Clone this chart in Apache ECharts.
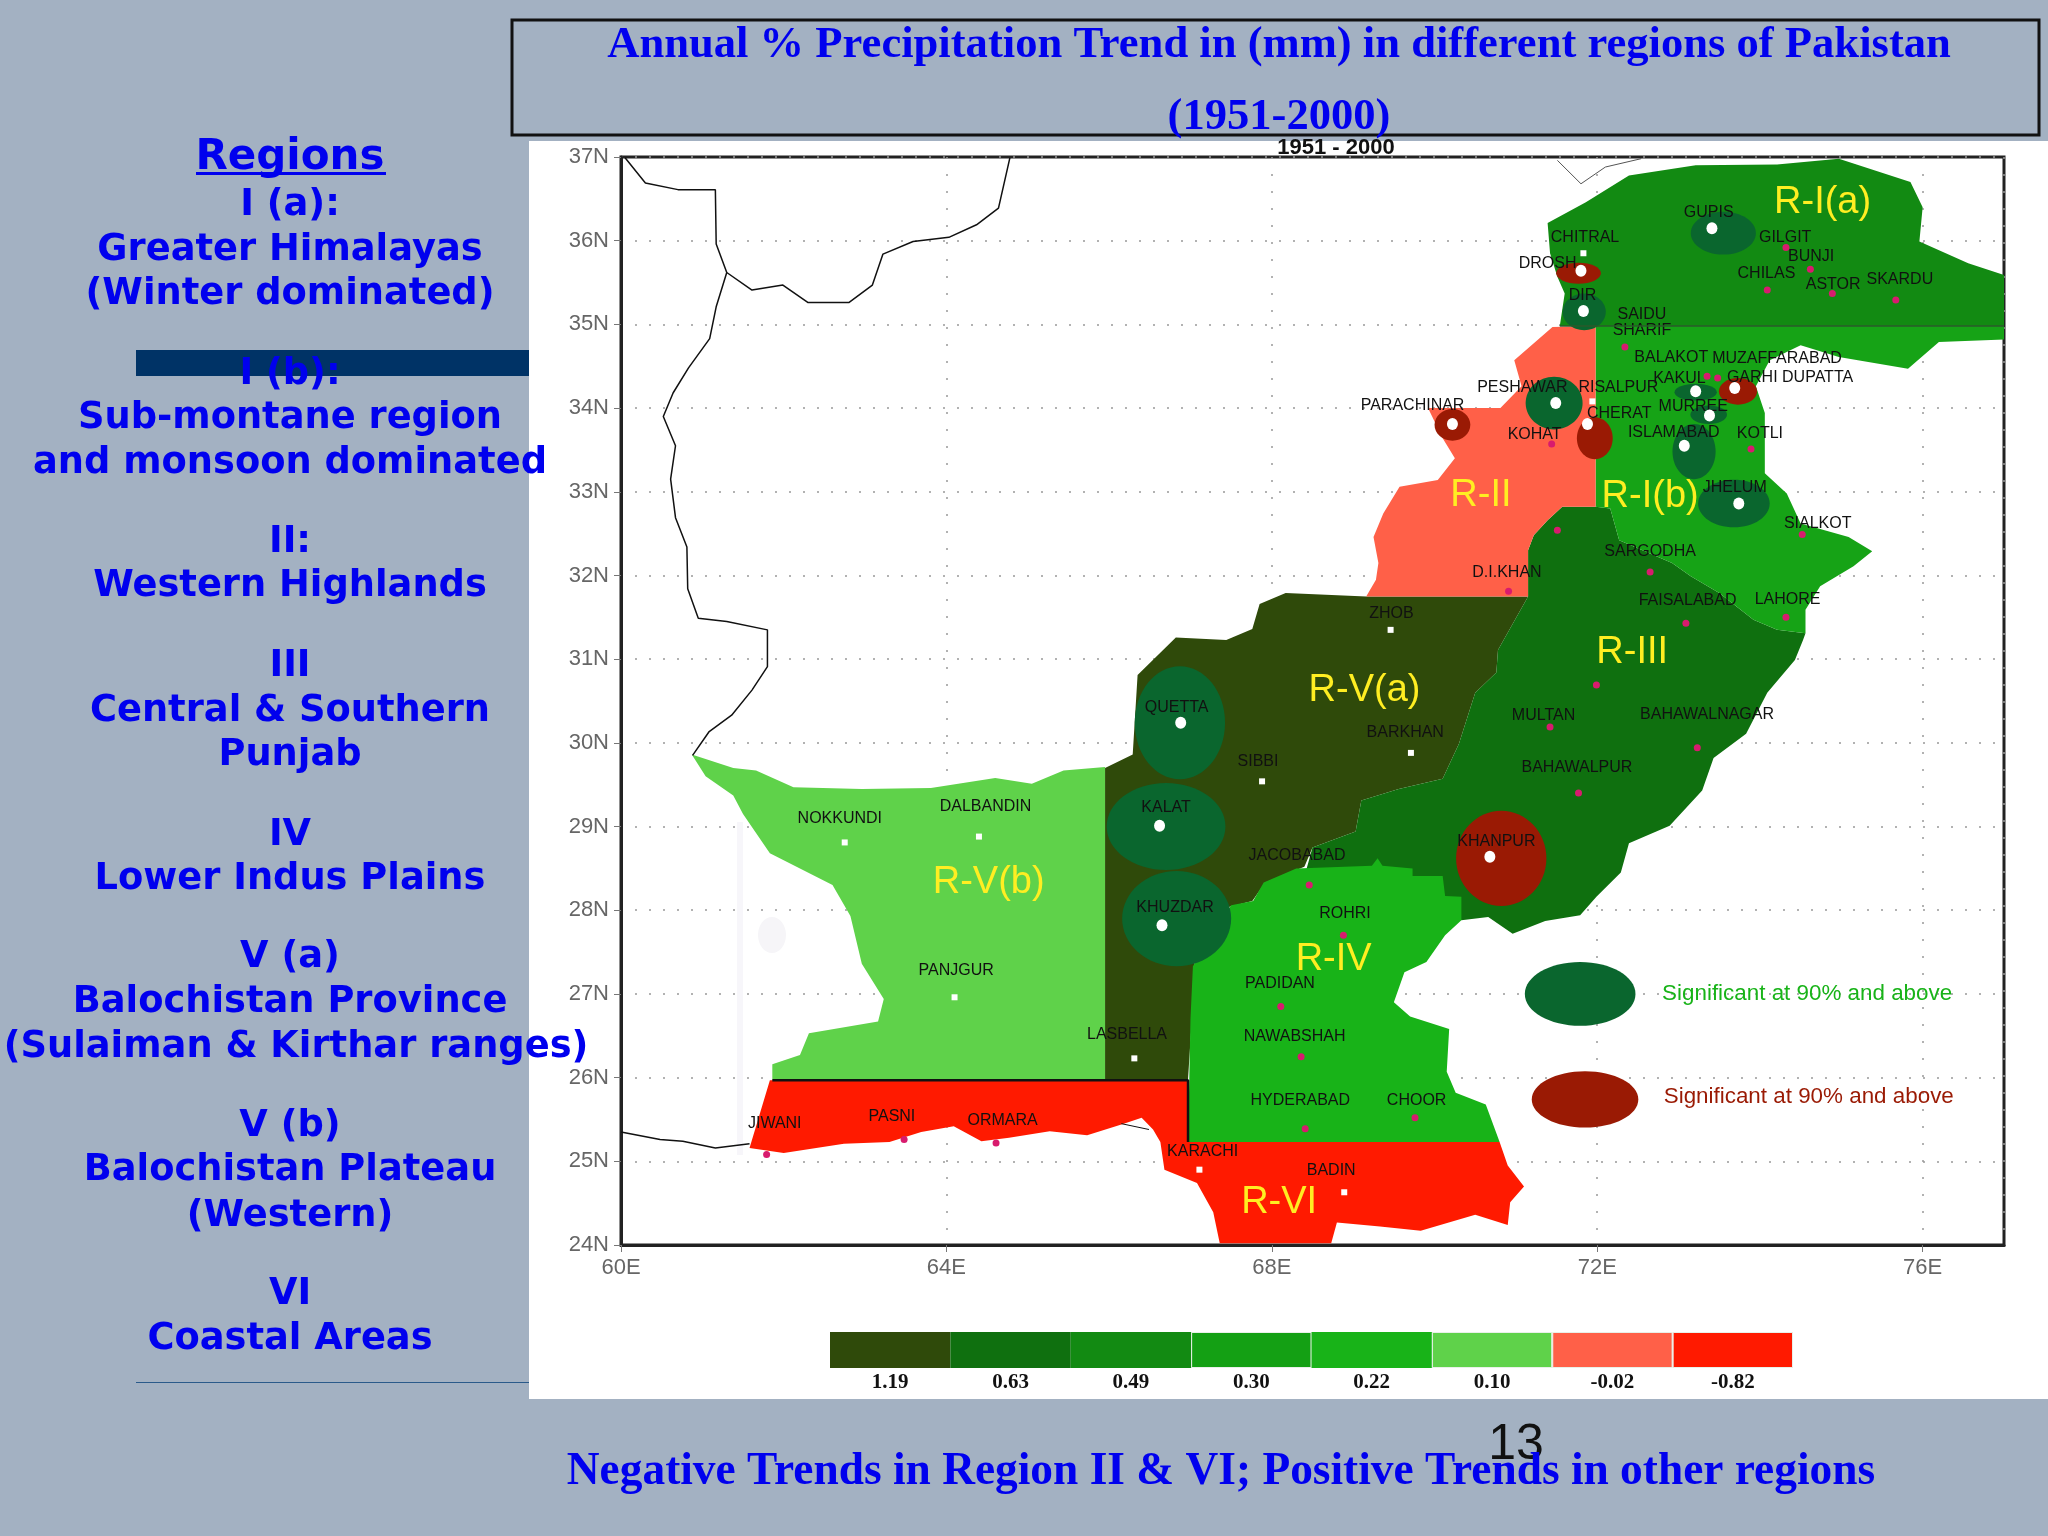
<!DOCTYPE html>
<html>
<head>
<meta charset="utf-8">
<title>Annual Precipitation Trend</title>
<script src="https://cdn.jsdelivr.net/npm/echarts@6/dist/echarts.min.js"></script>
<style>
html,body{margin:0;padding:0;background:#a3b1c2;}
#main{width:2048px;height:1536px;}
</style>
</head>
<body>
<div id="main"></div>
<script>
// region outlines, [lon, lat]
var rVa = [[66.35,30.81],[66.82,31.26],[67.44,31.23],[67.76,31.36],[67.85,31.66],[68.17,31.79],[69.16,31.75],[71.15,31.75],[70.78,31.11],[70.76,30.84],[70.5,30.6],[70.3,29.99],[70.1,29.57],[69.56,29.45],[69.1,29.31],[69.03,28.94],[68.5,28.75],[68.4,28.52],[67.92,28.33],[67.76,28.11],[67.47,28.04],[67.05,27.36],[67.02,26.75],[66.97,25.98],[65.95,25.98],[65.95,29.7],[66.29,29.86]];
var rIII = [[71.15,31.75],[71.15,32.3],[71.22,32.48],[71.39,32.66],[71.57,32.82],[71.98,32.82],[72.16,32.8],[72.27,32.42],[72.92,32.15],[73.15,31.99],[73.5,31.79],[73.92,31.47],[74.21,31.35],[74.56,31.31],[74.53,31.23],[74.43,30.99],[74.09,30.6],[73.83,30.11],[73.43,29.82],[73.29,29.43],[72.89,29.01],[72.39,28.8],[72.29,28.45],[71.99,28.16],[71.79,27.94],[71.36,27.87],[70.96,27.72],[70.66,27.92],[70.33,27.88],[70.13,28.17],[69.73,28.3],[68.4,28.4],[68.5,28.75],[69.03,28.94],[69.1,29.31],[69.56,29.45],[70.1,29.57],[70.3,29.99],[70.5,30.6],[70.76,30.84],[70.78,31.11]];
var rIa = [[71.39,36.21],[71.86,36.46],[72.39,36.78],[73.21,36.9],[74.21,36.91],[74.97,36.98],[75.85,36.7],[76,36.4],[75.96,35.99],[76.56,35.73],[77,35.59],[77,34.98],[71.54,34.98],[71.6,35.37],[71.51,35.57],[71.42,35.85]];
var rIb = [[71.98,34.98],[77,34.98],[77,34.82],[76.2,34.79],[75.82,34.47],[74.97,34.61],[74.5,34.75],[74.12,34.57],[73.95,34.26],[74.06,33.94],[74.06,33.22],[74.33,32.98],[74.5,32.62],[75.09,32.46],[75.38,32.29],[75.15,32.11],[74.74,31.87],[74.56,31.59],[74.56,31.31],[74.21,31.35],[73.92,31.47],[73.5,31.79],[73.15,31.99],[72.92,32.15],[72.27,32.42],[72.16,32.8],[71.98,32.82]];
var rII = [[71.98,34.98],[71.98,32.82],[71.57,32.82],[71.39,32.66],[71.22,32.48],[71.15,32.3],[71.15,31.75],[69.16,31.75],[69.28,31.95],[69.31,32.15],[69.25,32.46],[69.37,32.74],[69.57,33.06],[70.04,33.14],[70.25,33.4],[70.1,33.64],[69.92,34],[70.81,34],[71.07,34.26],[70.98,34.57],[71.45,34.97]];
var rIV = [[68.3,28.5],[69.23,28.53],[69.3,28.62],[69.36,28.53],[69.73,28.5],[69.73,28.41],[70.1,28.41],[70.13,28.17],[70.33,28.16],[70.33,27.88],[70.13,27.7],[69.9,27.38],[69.63,27.26],[69.5,26.9],[69.7,26.73],[70.18,26.58],[70.15,26.07],[70.26,25.82],[70.63,25.68],[70.8,25.23],[66.97,25.23],[67,26.7],[67.03,27.33],[67.5,28.06],[67.77,28.11],[67.9,28.33]];
var rVb = [[60.87,29.86],[61.38,29.7],[61.66,29.67],[62.12,29.47],[62.96,29.45],[63.81,29.46],[64.6,29.58],[65.05,29.51],[65.44,29.67],[65.95,29.71],[65.95,25.98],[61.86,25.98],[61.86,26.16],[62.2,26.27],[62.31,26.53],[63.16,26.67],[63.23,26.94],[62.96,27.36],[62.82,27.93],[62.6,28.3],[61.83,28.68],[61.5,29.15],[61.38,29.37],[61.04,29.6]];
var rVI = [[61.83,25.97],[66.97,25.97],[66.97,25.23],[70.8,25.23],[70.9,24.95],[71.1,24.7],[70.93,24.51],[70.9,24.24],[70.5,24.36],[69.83,24.17],[69.33,24.22],[68.8,24.27],[68.73,24.02],[67.36,24.02],[67.28,24.39],[67.08,24.74],[66.68,24.9],[66.63,25.23],[66.54,25.38],[66.4,25.52],[66.18,25.45],[65.73,25.31],[65.27,25.36],[64.77,25.28],[64.43,25.24],[64.09,25.42],[63.69,25.35],[63.3,25.23],[62.74,25.21],[62,25.1],[61.58,25.16]];

var regionPolys = [rVa, rIII, rIa, rIb, rII, rIV, rVb, rVI];
var regionColors = ['#2f4a0a','#0f700f','#128a12','#16a316','#ff6048','#18b318','#5fd24a','#ff1a00'];

// international borders
var borderNorth = [[60.05,36.99],[60.3,36.69],[60.7,36.61],[61.16,36.61],[61.17,35.96],[61.3,35.62],[61.61,35.41],[61.99,35.47],[62.3,35.26],[62.8,35.26],[63.09,35.47],[63.22,35.84],[63.59,35.99],[64.03,36.04],[64.37,36.19],[64.64,36.39],[64.78,36.99]];
var borderWest = [[61.3,35.62],[61.17,35.21],[61.09,34.83],[60.83,34.48],[60.64,34.18],[60.52,33.9],[60.67,33.55],[60.61,33.15],[60.67,32.69],[60.81,32.34],[60.82,31.84],[60.95,31.49],[61.3,31.45],[61.8,31.35],[61.8,30.91],[61.61,30.63],[61.36,30.33],[61.08,30.13],[60.88,29.85]];
var borderCoast = [[60,25.35],[60.48,25.26],[60.76,25.24],[61.16,25.16],[61.58,25.21]];
var borderPeak = [[71.51,36.96],[71.8,36.68],[72.1,36.88],[72.54,36.98]];
var borderKarachi = [[66.15,25.45],[66.49,25.38]];
var edgeSouth = [[61.86,25.97],[66.97,25.97],[66.97,25.23]];
var edgeNorth = [[71.54,34.98],[77,34.98]];

// significance ovals: lon, lat, span in lon, span in lat
var greenOvals = [[73.55,36.09,0.8,0.51],[71.84,35.15,0.53,0.44],[71.47,34.06,0.7,0.63],[73.21,34.19,0.52,0.2],[73.37,33.92,0.45,0.22],[73.19,33.48,0.53,0.66],[73.68,32.86,0.88,0.57],[66.87,30.24,1.11,1.35],[66.7,29,1.46,1.04],[66.83,27.9,1.34,1.14],[71.79,27,1.36,0.76]];
var redOvals = [[71.77,35.61,0.55,0.25],[70.22,33.8,0.44,0.38],[71.97,33.64,0.44,0.5],[73.73,34.2,0.47,0.32],[70.82,28.62,1.11,1.14],[71.85,25.74,1.31,0.67]];

// stations
var bigDots = [[73.41,36.15],[71.8,35.64],[71.83,35.16],[73.69,34.24],[73.21,34.2],[71.49,34.06],[70.22,33.81],[71.88,33.81],[73.38,33.91],[73.07,33.55],[73.74,32.86],[66.88,30.24],[66.62,29.01],[70.68,28.64],[66.65,27.82]];
var whiteDots = [[71.83,35.85],[71.94,34.08],[69.46,31.35],[69.71,29.88],[67.88,29.54],[67.11,24.9],[68.89,24.63],[62.75,28.81],[64.4,28.88],[64.1,26.96],[66.31,26.23]];
var pinkDots = [[72.34,34.73],[74.32,35.92],[74.62,35.66],[74.09,35.41],[74.89,35.37],[75.67,35.29],[73.35,34.38],[73.48,34.36],[71.44,33.57],[73.89,33.51],[74.52,32.49],[71.51,32.54],[72.65,32.04],[70.91,31.81],[73.09,31.43],[74.32,31.5],[71.99,30.69],[71.42,30.19],[73.23,29.94],[71.77,29.4],[68.46,28.3],[68.88,27.7],[68.11,26.85],[68.36,26.25],[68.41,25.39],[69.76,25.52],[61.79,25.08],[63.48,25.26],[64.61,25.22]];
var stationLabels = [
    ['GUPIS',73.37,36.34],['CHITRAL',71.85,36.04],['DROSH',71.39,35.73],['DIR',71.82,35.34],['SAIDU\nSHARIF',72.55,35.02],
    ['GILGIT',74.31,36.04],['BUNJI',74.63,35.81],['CHILAS',74.08,35.61],['ASTOR',74.9,35.48],['SKARDU',75.72,35.53],
    ['BALAKOT',72.91,34.6],['MUZAFFARABAD',74.21,34.59],['GARHI DUPATTA',74.37,34.37],['KAKUL',73.01,34.35],
    ['PESHAWAR',71.08,34.24],['RISALPUR',72.26,34.25],['PARACHINAR',69.73,34.03],['CHERAT',72.27,33.94],['KOHAT',71.23,33.68],
    ['MURREE',73.18,34.02],['ISLAMABAD',72.94,33.71],['KOTLI',74,33.7],['JHELUM',73.69,33.05],['SIALKOT',74.71,32.62],
    ['SARGODHA',72.65,32.28],['D.I.KHAN',70.89,32.03],['FAISALABAD',73.11,31.7],['LAHORE',74.34,31.71],['ZHOB',69.47,31.55],
    ['MULTAN',71.34,30.33],['BAHAWALNAGAR',73.35,30.34],['BARKHAN',69.64,30.12],['SIBBI',67.83,29.78],['QUETTA',66.83,30.42],
    ['KALAT',66.7,29.23],['BAHAWALPUR',71.75,29.7],['KHANPUR',70.76,28.82],['JACOBABAD',68.31,28.65],['KHUZDAR',66.81,28.03],
    ['ROHRI',68.9,27.96],['PADIDAN',68.1,27.12],['NAWABSHAH',68.28,26.49],['HYDERABAD',68.35,25.72],['CHOOR',69.78,25.72],
    ['KARACHI',67.15,25.12],['BADIN',68.73,24.89],['NOKKUNDI',62.69,29.1],['DALBANDIN',64.48,29.24],['PANJGUR',64.12,27.28],
    ['LASBELLA',66.22,26.52],['JIWANI',61.89,25.45],['PASNI',63.33,25.53],['ORMARA',64.69,25.49]
];
var regionLabels = [['R-I(a)',74.77,36.46],['R-II',70.57,32.96],['R-I(b)',72.65,32.94],['R-III',72.43,31.08],['R-V(a)',69.14,30.62],['R-V(b)',64.52,28.33],['R-IV',68.76,27.41],['R-VI',68.09,24.51]];
var sigGreenLabel = [['Significant at 90% and above',74.58,27]];
var sigRedLabel = [['Significant at 90% and above',74.6,25.77]];

// colour bar
var barLabels = ['1.19','0.63','0.49','0.30','0.22','0.10','-0.02','-0.82'];
var barHeights = [1,1,1,1,1,1,1,1];
var barColors = ['#2f4a0a','#0f700f','#128a12','#14a014','#18b318','#5fd24a','#ff6048','#ff1a00'];

// left column
var sideLines = ['Regions','I (a):','Greater Himalayas','(Winter dominated)','I (b):','Sub-montane region','and monsoon dominated','II:','Western Highlands','III','Central & Southern','Punjab','IV','Lower Indus Plains','V (a)','Balochistan Province','(Sulaiman & Kirthar ranges)','V (b)','Balochistan Plateau','(Western)','VI','Coastal Areas'];
var sideRows = [158,205,250,294,374,418,463,542,586,666,711,755,835,879,957,1002,1047,1126,1170,1216,1294,1339];

var titleText = 'Annual % Precipitation Trend in (mm) in different regions of Pakistan\n(1951-2000)';
var footerText = 'Negative Trends in Region II & VI; Positive Trends in other regions';

var blue = '#0000ee';
var chart = echarts.init(document.getElementById('main'));

function polySeries(polys, colors) {
    return {
        type: 'custom',
        coordinateSystem: 'cartesian2d',
        clip: false,
        silent: true,
        data: polys.map(function (p, i) { return [i]; }),
        renderItem: function (params, api) {
            var i = params.dataIndex;
            return {
                type: 'polygon',
                shape: { points: polys[i].map(function (q) { return api.coord(q); }) },
                style: { fill: colors[i] }
            };
        }
    };
}

function ovalSeries(list, color) {
    return {
        type: 'custom',
        coordinateSystem: 'cartesian2d',
        silent: true,
        data: list,
        renderItem: function (params, api) {
            var c = api.coord([api.value(0), api.value(1)]);
            var s = api.size([api.value(2), api.value(3)]);
            return {
                type: 'ellipse',
                shape: { cx: c[0], cy: c[1], rx: s[0] / 2, ry: s[1] / 2 },
                style: { fill: color }
            };
        }
    };
}

function textSeries(list, font, color) {
    return {
        type: 'custom',
        coordinateSystem: 'cartesian2d',
        silent: true,
        data: list.map(function (d) { return [d[1], d[2]]; }),
        renderItem: function (params, api) {
            var c = api.coord([api.value(0), api.value(1)]);
            return {
                type: 'text',
                x: c[0],
                y: c[1],
                style: {
                    text: list[params.dataIndex][0],
                    font: font,
                    fill: color,
                    align: 'center',
                    verticalAlign: 'middle'
                }
            };
        }
    };
}

function lineSeries(points, color, width) {
    return {
        type: 'line',
        data: points,
        showSymbol: false,
        silent: true,
        clip: false,
        lineStyle: { color: color, width: width }
    };
}

function dotSeries(points, color, size, symbol) {
    return {
        type: 'scatter',
        data: points,
        symbol: symbol,
        symbolSize: size,
        silent: true,
        itemStyle: { color: color, opacity: 1 }
    };
}

var sideText = sideLines.map(function (s, i) {
    return {
        type: 'text',
        z: 20,
        x: i == 16 ? 296 : 290,
        y: sideRows[i],
        style: {
            text: s,
            font: 'bold ' + (i == 0 ? 42 : 36.8) + 'px "DejaVu Sans"',
            fill: blue,
            align: 'center',
            verticalAlign: 'middle'
        }
    };
});

var option = {
    animation: false,
    backgroundColor: '#a3b1c2',
    title: {
        text: titleText,
        left: 1274,
        top: 4,
        textAlign: 'center',
        textStyle: {
            fontFamily: 'Liberation Serif',
            fontWeight: 'bold',
            fontSize: 44.6,
            lineHeight: 72,
            color: blue
        }
    },
    graphic: [
        { type: 'rect', z: -10, shape: { x: 529, y: 141, width: 1519, height: 1258 }, style: { fill: '#fff' } },
        { type: 'rect', z: -9, shape: { x: 737, y: 822, width: 6, height: 333 }, style: { fill: '#f7f6fa' } },
        { type: 'ellipse', z: -9, shape: { cx: 772, cy: 935, rx: 14, ry: 18 }, style: { fill: '#f6f5f8' } },
        { type: 'rect', z: -9, shape: { x: 136, y: 350, width: 393, height: 26 }, style: { fill: '#003366' } },
        { type: 'rect', z: -9, shape: { x: 136, y: 1382, width: 393, height: 1 }, style: { fill: '#2a5a8a' } },
        { type: 'rect', z: -8, shape: { x: 512, y: 20, width: 1527, height: 115 }, style: { fill: 'none', stroke: '#111', lineWidth: 3 } },
        { type: 'rect', z: 20, shape: { x: 196, y: 172, width: 190, height: 3 }, style: { fill: blue } },
        { type: 'text', z: 3, x: 1336, y: 148, style: { text: '1951 - 2000', font: 'bold 22px "Liberation Sans"', fill: '#111', align: 'center', verticalAlign: 'middle' } },
        { type: 'text', z: 5, x: 1516, y: 1445, style: { text: '13', font: '50px "Liberation Sans"', fill: '#111', align: 'center', verticalAlign: 'middle' } },
        { type: 'text', z: 20, x: 1221, y: 1472, style: { text: footerText, font: 'bold 45.4px "Liberation Serif"', fill: blue, align: 'center', verticalAlign: 'middle' } }
    ].concat(sideText),
    grid: [
        { left: 621, top: 157, width: 1383, height: 1088, show: true, borderColor: '#222', borderWidth: 3, backgroundColor: 'transparent' },
        { left: 830, top: 1332, width: 963, height: 36 }
    ],
    xAxis: [
        {
            type: 'value', min: 60, max: 77, interval: 4,
            axisLine: { show: true, lineStyle: { color: '#222', width: 3 } },
            axisTick: { show: true, length: 7, lineStyle: { color: '#777' } },
            axisLabel: { showMaxLabel: false, margin: 12, color: '#666', fontFamily: 'Liberation Sans', fontSize: 22, formatter: '{value}E' },
            splitLine: { show: true, lineStyle: { color: '#999', width: 1.5, type: [2, 15] } }
        },
        {
            type: 'category', gridIndex: 1, data: barLabels,
            axisLine: { show: false },
            axisTick: { show: false },
            axisLabel: { margin: 4, color: '#111', fontFamily: 'Liberation Serif', fontWeight: 'bold', fontSize: 21 }
        }
    ],
    yAxis: [
        {
            type: 'value', min: 24, max: 37, interval: 1,
            axisLine: { show: true, lineStyle: { color: '#222', width: 3 } },
            axisTick: { show: true, length: 7, lineStyle: { color: '#777' } },
            axisLabel: { margin: 12, color: '#666', fontFamily: 'Liberation Sans', fontSize: 22, formatter: '{value}N' },
            splitLine: { show: true, lineStyle: { color: '#999', width: 1.5, type: [2, 12] } }
        },
        { type: 'value', gridIndex: 1, min: 0, max: 1, show: false }
    ],
    series: [
        polySeries(regionPolys, regionColors),
        lineSeries(borderNorth, '#111', 1.5),
        lineSeries(borderWest, '#111', 1.5),
        lineSeries(borderCoast, '#111', 1.5),
        lineSeries(borderPeak, '#555', 1),
        lineSeries(borderKarachi, '#111', 1),
        lineSeries(edgeSouth, '#111', 2.5),
        lineSeries(edgeNorth, '#2b5a2b', 1.5),
        ovalSeries(greenOvals, '#0a662e'),
        ovalSeries(redOvals, '#9a1a04'),
        dotSeries(bigDots, '#fff', [11, 12], 'circle'),
        dotSeries(whiteDots, '#fff', 6, 'rect'),
        dotSeries(pinkDots, '#d81b6e', 7, 'circle'),
        textSeries(stationLabels, '16px "Liberation Sans"', '#111'),
        textSeries(regionLabels, '38px "Liberation Sans"', '#ffee22'),
        textSeries(sigGreenLabel, '22.4px "Liberation Sans"', '#18b318'),
        textSeries(sigRedLabel, '22.4px "Liberation Sans"', '#9a1a04'),
        {
            type: 'bar',
            xAxisIndex: 1,
            yAxisIndex: 1,
            barWidth: '100%',
            silent: true,
            data: barHeights.map(function (v, i) {
                return { value: v, itemStyle: { color: barColors[i], borderColor: '#e8f0e8', borderWidth: (i == 3 || i >= 5) ? 1 : 0 } };
            })
        }
    ]
};

chart.setOption(option);
</script>
</body>
</html>
